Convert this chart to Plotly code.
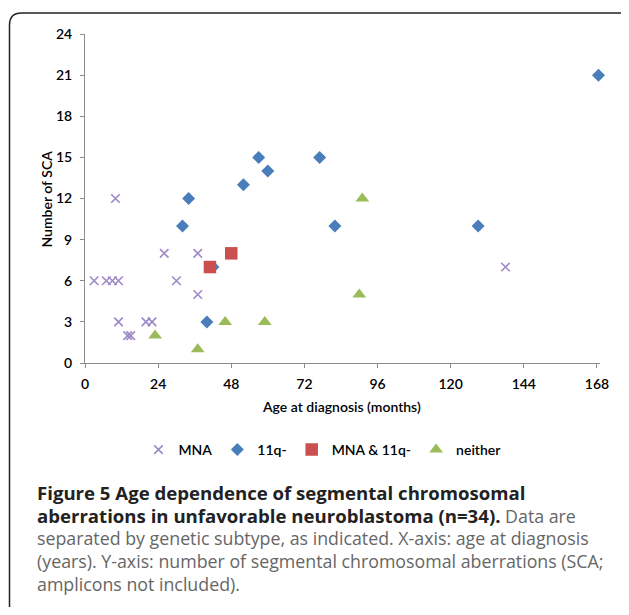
import plotly.graph_objects as go

# ---- data ----
mna_age = [3, 7, 9, 11, 10, 11, 14, 15, 20, 22, 26, 30, 37, 37, 138]
mna_sca = [6, 6, 6, 6, 12, 3, 2, 2, 3, 3, 8, 6, 8, 5, 7]

q11_age = [32, 34, 40, 42, 52, 57, 60, 77, 82, 129, 168.5]
q11_sca = [10, 12, 3, 7, 13, 15, 14, 15, 10, 10, 21]

both_age = [41, 48]
both_sca = [7, 8]

neither_age = [23, 37, 46, 59, 90, 91]
neither_sca = [2, 1, 3, 3, 5, 12]

x_ticks = [0, 24, 48, 72, 96, 120, 144, 168]
y_ticks = [0, 3, 6, 9, 12, 15, 18, 21, 24]
x_max = 169

# ---- layout geometry (page pixels; the page body adds an 8px offset) ----
OFF = 8
W, H = 629 - OFF, 615 - 2 * OFF
PL, PT, PB = 84.5, 34, 363                 # plot area in page pixels
PR = PL + 512 * x_max / 168
L, T = PL - OFF, PT - OFF
R, B = W - (PR - OFF), H - (PB - OFF)
PW, PH = PR - PL, PB - PT


def px(x):
    return (x - PL) / PW


def py(y):
    return 1 - (y - PT) / PH


fig = go.Figure()
fig.add_trace(go.Scatter(
    x=q11_age, y=q11_sca, mode="markers", name="11q-", legendrank=2,
    marker=dict(symbol="diamond", size=10, color="#4A7EBB"),
    cliponaxis=False))
fig.add_trace(go.Scatter(
    x=mna_age, y=mna_sca, mode="markers", name="MNA", legendrank=1,
    marker=dict(symbol="x-thin-open", size=8.5, color="#9D89C8",
                line=dict(width=1.6, color="#9D89C8")),
    cliponaxis=False))
fig.add_trace(go.Scatter(
    x=both_age, y=both_sca, mode="markers", name="MNA & 11q-", legendrank=3,
    marker=dict(symbol="square", size=12.5, color="#C9504E"),
    cliponaxis=False))
fig.add_trace(go.Scatter(
    x=neither_age, y=neither_sca, mode="markers", name="neither", legendrank=4,
    marker=dict(symbol="triangle-up", size=12, color="#9BBB59"),
    cliponaxis=False))

axis_font = dict(family="Lato, sans-serif", size=14, color="#000000", weight=600)

fig.update_layout(
    width=W, height=H,
    margin=dict(l=L, r=R, t=T, b=B, pad=0),
    paper_bgcolor="white", plot_bgcolor="white",
    showlegend=True,
    legend=dict(orientation="h", x=px(322), y=py(450), xanchor="center",
                yanchor="middle",
                font=dict(family="Lato, sans-serif", size=14, color="#000", weight=600),
                itemwidth=30, traceorder="normal", bgcolor="rgba(0,0,0,0)"),
    xaxis=dict(range=[0, x_max], tickvals=x_ticks, ticktext=[str(v) for v in x_ticks],
               showgrid=False, zeroline=False, showline=True, linecolor="#8c8c8c",
               linewidth=1, ticks="outside", ticklen=4, tickcolor="#8c8c8c",
               tickfont=axis_font, ticklabelstandoff=4),
    yaxis=dict(range=[0, 24], tickvals=y_ticks, ticktext=[str(v) for v in y_ticks],
               showgrid=False, zeroline=False, showline=True, linecolor="#8c8c8c",
               linewidth=1, ticks="outside", ticklen=4, tickcolor="#8c8c8c",
               tickfont=axis_font, ticklabelstandoff=5),
)

# axis titles
title_font = dict(family="Lato, sans-serif", size=14, color="#000", weight=600)
fig.add_annotation(text="Age at diagnosis (months)", xref="paper", yref="paper",
                   x=px(341), y=py(407), showarrow=False, font=title_font,
                   xanchor="center", yanchor="middle")
fig.add_annotation(text="Number of SCA", xref="paper", yref="paper",
                   x=px(45), y=py(199), showarrow=False, textangle=-90,
                   font=title_font, xanchor="center", yanchor="middle")

# caption
cap_font = dict(family="Open Sans, sans-serif", size=17.8, color="#666666")
dark = "#222222"
lines = [
    f"<b><span style='color:{dark};font-size:18.6px'>Figure 5 Age dependence of segmental chromosomal</span></b>",
    f"<b><span style='color:{dark};font-size:18.6px'>aberrations in unfavorable neuroblastoma (n=34).</span></b> Data are",
    "separated by genetic subtype, as indicated. X-axis: age at diagnosis",
    "(years). Y-axis: number of segmental chromosomal aberrations (SCA;",
    "amplicons not included).",
]
line_y = [492, 515, 538, 561, 584]
for t, yy in zip(lines, line_y):
    fig.add_annotation(text=t, xref="paper", yref="paper", x=px(34), y=py(yy),
                       showarrow=False, xanchor="left", yanchor="middle", align="left",
                       font=cap_font)

# rounded frame (top corners rounded, bottom runs off page)
x0, x1 = px(9), px(634)
y0, y1 = py(640), py(13)
rx, ry = 12 / PW, 12 / PH
path = (f"M {x0},{y0} L {x0},{y1 - ry} Q {x0},{y1} {x0 + rx},{y1} "
        f"L {x1 - rx},{y1} Q {x1},{y1} {x1},{y1 - ry} L {x1},{y0}")
fig.add_shape(type="path", path=path, xref="paper", yref="paper",
              line=dict(color="#222222", width=1.5), layer="below")

fig.write_html("out.html")
